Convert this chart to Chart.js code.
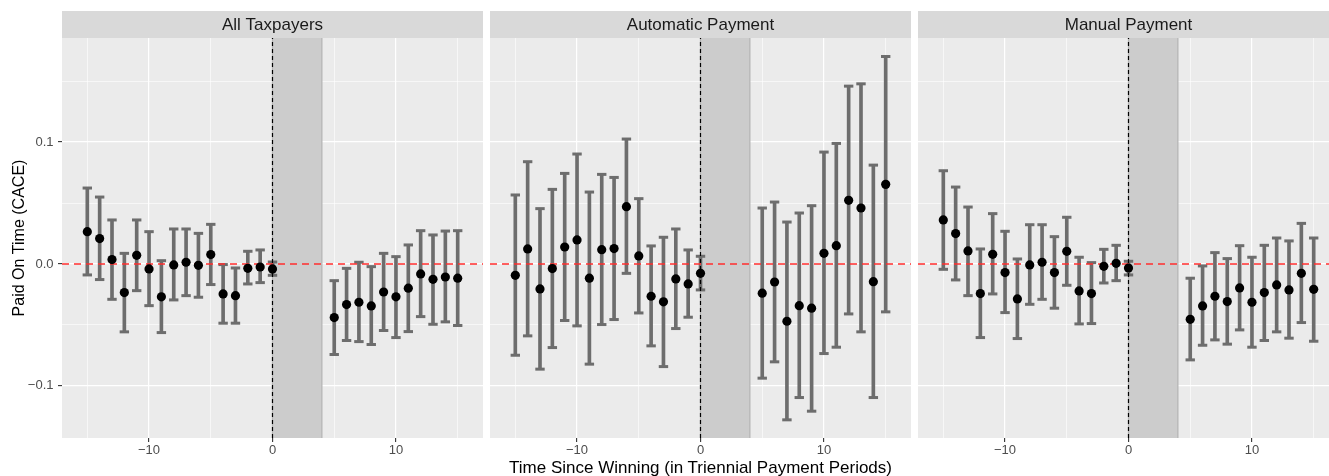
<!DOCTYPE html>
<html>
<head>
<meta charset="utf-8">
<script src="https://cdn.jsdelivr.net/npm/chart.js@4.4.1/dist/chart.umd.min.js"></script>
<style>
  html, body { margin: 0; padding: 0; background: #ffffff; overflow: hidden; }
  #wrap { position: relative; width: 1329px; height: 476px; overflow: hidden; }
  #wrap canvas { position: absolute; top: 0; }
  #xtitle {
    position: absolute; left: 62px; width: 1277px; top: 459px;
    text-align: center; white-space: nowrap; color: #000000;
    font: 17px "Liberation Sans", Arial, sans-serif; line-height: 17px;
  }
</style>
</head>
<body>
<div id="wrap">
  <canvas id="p1" width="483" height="476" style="left:0px"></canvas>
  <canvas id="p2" width="421" height="476" style="left:490px"></canvas>
  <canvas id="p3" width="421" height="476" style="left:918px"></canvas>
  <div id="xtitle">Time Since Winning (in Triennial Payment Periods)</div>
</div>
<script>
// Payment periods relative to winning (periods 1-4 are the treatment window)
const periods = [-15, -14, -13, -12, -11, -10, -9, -8, -7, -6, -5, -4, -3, -2, -1, 0,
                 5, 6, 7, 8, 9, 10, 11, 12, 13, 14, 15];

// All taxpayers: CACE estimate and 95% interval
const allEst = [0.0265, 0.0208, 0.0036, -0.0235, 0.0071, -0.0041, -0.0270, -0.0008, 0.0014, -0.0011, 0.0077, -0.0246, -0.0260, -0.0036, -0.0025, -0.0041,
                -0.0440, -0.0333, -0.0314, -0.0344, -0.0230, -0.0270, -0.0199, -0.0082, -0.0126, -0.0107, -0.0117];
const allLo  = [-0.0090, -0.0128, -0.0290, -0.0557, -0.0219, -0.0342, -0.0563, -0.0295, -0.0260, -0.0273, -0.0169, -0.0486, -0.0486, -0.0164, -0.0153, -0.0093,
                -0.0743, -0.0628, -0.0637, -0.0661, -0.0546, -0.0604, -0.0555, -0.0432, -0.0495, -0.0475, -0.0505];
const allHi  = [0.0623, 0.0549, 0.0361, 0.0087, 0.0361, 0.0265, 0.0027, 0.0287, 0.0287, 0.0251, 0.0325, -0.0005, -0.0033, 0.0104, 0.0115, 0.0016,
                -0.0137, -0.0036, 0.0014, -0.0022, 0.0087, 0.0060, 0.0156, 0.0273, 0.0238, 0.0270, 0.0273];

// Automatic payment
const autoEst = [-0.0093, 0.0123, -0.0205, -0.0038, 0.0139, 0.0197, -0.0117, 0.0117, 0.0126, 0.0470, 0.0066, -0.0265, -0.0311, -0.0123, -0.0164, -0.0077,
                 -0.0240, -0.0148, -0.0470, -0.0342, -0.0363, 0.0087, 0.0150, 0.0522, 0.0459, -0.0145, 0.0653];
const autoLo  = [-0.0749, -0.0590, -0.0863, -0.0686, -0.0464, -0.0508, -0.0822, -0.0497, -0.0456, -0.0077, -0.0402, -0.0672, -0.0842, -0.0530, -0.0437, -0.0213,
                 -0.0937, -0.0803, -0.1279, -0.1096, -0.1208, -0.0735, -0.0683, -0.0410, -0.0557, -0.1096, -0.0393];
const autoHi  = [0.0566, 0.0839, 0.0454, 0.0612, 0.0743, 0.0902, 0.0590, 0.0735, 0.0710, 0.1025, 0.0536, 0.0148, 0.0219, 0.0287, 0.0115, 0.0063,
                 0.0459, 0.0508, 0.0344, 0.0418, 0.0478, 0.0918, 0.0989, 0.1459, 0.1478, 0.0811, 0.1702];

// Manual payment
const manEst = [0.0361, 0.0249, 0.0107, -0.0243, 0.0079, -0.0071, -0.0287, -0.0008, 0.0014, -0.0071, 0.0104, -0.0221, -0.0243, -0.0019, 0.0005, -0.0033,
                -0.0454, -0.0344, -0.0265, -0.0309, -0.0197, -0.0314, -0.0235, -0.0172, -0.0213, -0.0077, -0.0208];
const manLo  = [-0.0044, -0.0131, -0.0260, -0.0604, -0.0246, -0.0399, -0.0612, -0.0331, -0.0290, -0.0363, -0.0175, -0.0492, -0.0489, -0.0156, -0.0137, -0.0090,
                -0.0787, -0.0667, -0.0623, -0.0658, -0.0541, -0.0683, -0.0628, -0.0557, -0.0609, -0.0481, -0.0634];
const manHi  = [0.0765, 0.0631, 0.0467, 0.0123, 0.0413, 0.0268, 0.0041, 0.0322, 0.0322, 0.0224, 0.0383, 0.0055, 0.0011, 0.0120, 0.0153, 0.0022,
                -0.0117, -0.0016, 0.0093, 0.0044, 0.0150, 0.0055, 0.0153, 0.0213, 0.0189, 0.0333, 0.0213];

const panelTitles = ['All Taxpayers', 'Automatic Payment', 'Manual Payment'];

// Axis ticks (all ticks get a grid line; only the labelled ones get text)
const xTicks = [-15, -10, -5, 0, 5, 10, 15];
const xLabelled = [-10, 0, 10];
const yTicks = [-0.1, -0.05, 0, 0.05, 0.1, 0.15];
const yLabelled = [-0.1, 0, 0.1];

// Shared axis limits and the shaded treatment window
const xLimits = [-17.05, 17.05];
const yLimits = [-0.1428, 0.1854];
const shadeWindow = [0, 4];
const refX = 0;
const refY = 0;

const FONT = '"Liberation Sans", Arial, sans-serif';
const BAR_GREY = '#6D6D6D';

Chart.defaults.font.family = FONT;

const near = (list, v) => typeof v === 'number' && list.some(t => Math.abs(t - v) < 1e-9);
const tickVal = c => (c && c.tick) ? c.tick.value : NaN;
const fmtY = v => {
  if (Math.abs(v) < 1e-9) return '0.0';
  return (v < 0 ? '\u2212' : '') + Math.abs(v).toFixed(1);
};
const fmtX = v => (v < 0 ? '\u2212' : '') + Math.abs(v);

// Panel background, facet strip and shaded window
const panelDeco = {
  id: 'panelDeco',
  beforeDraw(chart, args, opts) {
    const { ctx, chartArea: a } = chart;
    ctx.save();
    ctx.fillStyle = '#EBEBEB';
    ctx.fillRect(a.left, a.top, a.right - a.left, a.bottom - a.top);
    ctx.fillStyle = '#D9D9D9';
    ctx.fillRect(a.left, 11, a.right - a.left, a.top - 11);
    ctx.fillStyle = '#1A1A1A';
    ctx.font = '17px ' + FONT;
    ctx.textAlign = 'center';
    ctx.textBaseline = 'alphabetic';
    ctx.fillText(opts.title, (a.left + a.right) / 2, 30);
    ctx.restore();
  },
  beforeDatasetsDraw(chart, args, opts) {
    const { ctx, chartArea: a, scales: { x } } = chart;
    const x0 = x.getPixelForValue(opts.shade[0]);
    const x1 = x.getPixelForValue(opts.shade[1]);
    ctx.save();
    ctx.fillStyle = '#CCCCCC';
    ctx.fillRect(x0, a.top, x1 - x0, a.bottom - a.top);
    ctx.strokeStyle = '#B3B3B3';
    ctx.lineWidth = 1.2;
    ctx.beginPath();
    ctx.moveTo(x0, a.top); ctx.lineTo(x0, a.bottom);
    ctx.moveTo(x1, a.top); ctx.lineTo(x1, a.bottom);
    ctx.stroke();
    ctx.restore();
  }
};

function makePanel(canvasId, title, est, lo, hi, showY) {
  const points = periods.map((p, i) => ({ x: p, y: est[i] }));
  const bars = periods.map((p, i) => ({ x: p, y: [lo[i], hi[i]] }));
  const caps = periods.map((p, i) => ({ x: p, y: lo[i] }))
    .concat(periods.map((p, i) => ({ x: p, y: hi[i] })));

  return new Chart(document.getElementById(canvasId), {
    type: 'scatter',
    data: {
      datasets: [
        { type: 'scatter', data: points, order: 0,
          pointRadius: 4.6, pointBackgroundColor: '#000000', backgroundColor: '#000000',
          pointBorderWidth: 0, borderWidth: 0 },
        { type: 'line', data: [{ x: refX, y: yLimits[0] }, { x: refX, y: yLimits[1] }], order: 1,
          borderColor: '#000000', borderWidth: 1.2, borderDash: [4, 3],
          pointRadius: 0, fill: false, tension: 0 },
        { type: 'line', data: [{ x: xLimits[0], y: refY }, { x: xLimits[1], y: refY }], order: 2,
          borderColor: '#FF2E2E', borderWidth: 1.6, borderDash: [7, 5],
          pointRadius: 0, fill: false, tension: 0 },
        { type: 'scatter', data: caps, order: 3,
          pointStyle: 'line', pointRadius: 4.7, rotation: 0,
          borderColor: BAR_GREY, pointBorderColor: BAR_GREY,
          borderWidth: 3, pointBorderWidth: 3 },
        { type: 'bar', data: bars, order: 4,
          backgroundColor: BAR_GREY, borderWidth: 0, barThickness: 3 }
      ]
    },
    options: {
      responsive: false,
      animation: false,
      devicePixelRatio: 1,
      events: [],
      layout: { autoPadding: false, padding: { top: 38, left: 0, right: 0, bottom: 0 } },
      plugins: {
        legend: { display: false },
        tooltip: { enabled: false },
        panelDeco: { title: title, shade: shadeWindow }
      },
      scales: {
        x: {
          type: 'linear', min: xLimits[0], max: xLimits[1], offset: false,
          afterBuildTicks: s => { s.ticks = xTicks.map(v => ({ value: v })); },
          afterFit: s => { s.height = 38; s.paddingLeft = 0; s.paddingRight = 0; },
          border: { display: false },
          grid: {
            offset: false,
            color: '#FFFFFF',
            lineWidth: c => near(xLabelled, tickVal(c)) ? 1.2 : 0.6,
            drawTicks: true, tickLength: 4, tickWidth: 1.1,
            tickColor: c => near(xLabelled, tickVal(c)) ? '#333333' : 'rgba(0,0,0,0)'
          },
          ticks: {
            autoSkip: false, maxRotation: 0, minRotation: 0, padding: 1,
            color: '#4D4D4D', font: { size: 13 },
            callback: v => near(xLabelled, v) ? fmtX(v) : ''
          }
        },
        y: {
          type: 'linear', min: yLimits[0], max: yLimits[1],
          afterBuildTicks: s => { s.ticks = yTicks.map(v => ({ value: v })); },
          afterFit: s => { s.width = showY ? 62 : 0; s.paddingTop = 0; s.paddingBottom = 0; },
          border: { display: false },
          grid: {
            offset: false,
            color: '#FFFFFF',
            lineWidth: c => near(yLabelled, tickVal(c)) ? 1.2 : 0.6,
            drawTicks: showY, tickLength: 4, tickWidth: 1.1,
            tickColor: c => near(yLabelled, tickVal(c)) ? '#333333' : 'rgba(0,0,0,0)'
          },
          ticks: {
            display: showY, padding: 4.5,
            color: '#4D4D4D', font: { size: 13 },
            callback: v => near(yLabelled, v) ? fmtY(v) : ''
          },
          title: {
            display: showY, text: 'Paid On Time (CACE)',
            color: '#000000', font: { size: 16 },
            padding: { top: 10, bottom: 0 }
          }
        }
      }
    },
    plugins: [panelDeco]
  });
}

makePanel('p1', panelTitles[0], allEst, allLo, allHi, true);
makePanel('p2', panelTitles[1], autoEst, autoLo, autoHi, false);
makePanel('p3', panelTitles[2], manEst, manLo, manHi, false);
</script>
</body>
</html>
